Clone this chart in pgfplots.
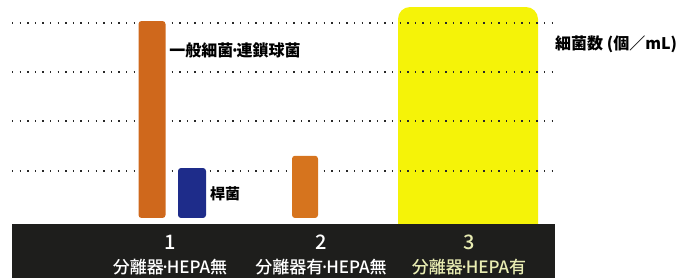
\documentclass[border=0pt]{standalone}
\usepackage{fontspec}
\usepackage{pgfplots}
\pgfplotsset{compat=1.18}
\setmainfont{Noto Sans CJK JP}
\newfontfamily\jpm{Noto Sans CJK JP Medium}
\newfontfamily\jpk{Noto Sans CJK JP Black}
\definecolor{orA}{RGB}{207,104,28}
\definecolor{orB}{RGB}{214,116,30}
\definecolor{navy}{RGB}{30,44,138}
\definecolor{hiyel}{RGB}{245,243,8}
\definecolor{band}{RGB}{30,30,28}
\definecolor{lab3}{RGB}{232,236,178}
\definecolor{gridc}{RGB}{40,40,40}
\newcommand{\md}{\kern-0.2em·\kern-0.2em}
\begin{document}
\begin{tikzpicture}
\begin{axis}[
  name=ax,
  set layers=axis on top,
  width=686pt, height=278pt, scale only axis,
  xmin=0, xmax=686, ymin=-1.2245, ymax=4.449,
  axis line style={draw=none},
  major tick length=0pt,
  ytick=\empty,
  xtick={170,321,469},
  xticklabels={{{\fontsize{20}{24}\selectfont 1}\\分離器\md HEPA無},
               {{\fontsize{20}{24}\selectfont 2}\\分離器有\md HEPA無},
               {\color{lab3}{\fontsize{20}{24}\selectfont 3}\\\color{lab3}分離器\md HEPA有}},
  xticklabel style={anchor=base, yshift=4pt, inner sep=0pt, align=center,
    text=white, font=\jpm\fontsize{17}{24}\selectfont},
  clip=false,
]
% highlight for condition 3 and bottom band
\fill[hiyel, rounded corners=12pt] (axis cs:398,-0.6) rectangle (axis cs:538,4.306);
\fill[band] (axis cs:12,-1.2245) rectangle (axis cs:555,-0.122);
% dotted reference lines
\addplot[gridc, line width=1.6pt, dash pattern=on 1.4pt off 6.2pt] coordinates {(12,0.96) (555,0.96)};
\addplot[gridc, line width=1.6pt, dash pattern=on 1.4pt off 6.2pt] coordinates {(12,1.98) (555,1.98)};
\addplot[gridc, line width=1.6pt, dash pattern=on 1.4pt off 6.2pt] coordinates {(12,2.98) (555,2.98)};
\addplot[gridc, line width=1.6pt, dash pattern=on 1.4pt off 6.2pt] coordinates {(12,3.98) (555,3.98)};
% bars
\addplot[ybar, bar width=27, bar shift=0pt, fill=orA, draw=none, rounded corners=3pt] coordinates {(152,4.02)};
\addplot[ybar, bar width=28, bar shift=0pt, fill=navy, draw=none, rounded corners=3pt] coordinates {(192,1.02)};
\addplot[ybar, bar width=26, bar shift=0pt, fill=orB, draw=none, rounded corners=3pt] coordinates {(305,1.27)};
% labels
\node[font=\jpk\fontsize{16}{16}\selectfont, inner sep=0pt] at (axis cs:235,3.43) {一般細菌\md 連鎖球菌};
\node[font=\jpk\fontsize{15}{15}\selectfont, inner sep=0pt] at (axis cs:225,0.49) {桿菌};
\node[font=\jpk\fontsize{16}{16}\selectfont, inner sep=0pt, anchor=west] at (axis cs:555,3.55) {細菌数 (個／mL)};
\end{axis}
\pgfresetboundingbox
\path (ax.south west) rectangle (ax.north east);
\end{tikzpicture}
\end{document}
